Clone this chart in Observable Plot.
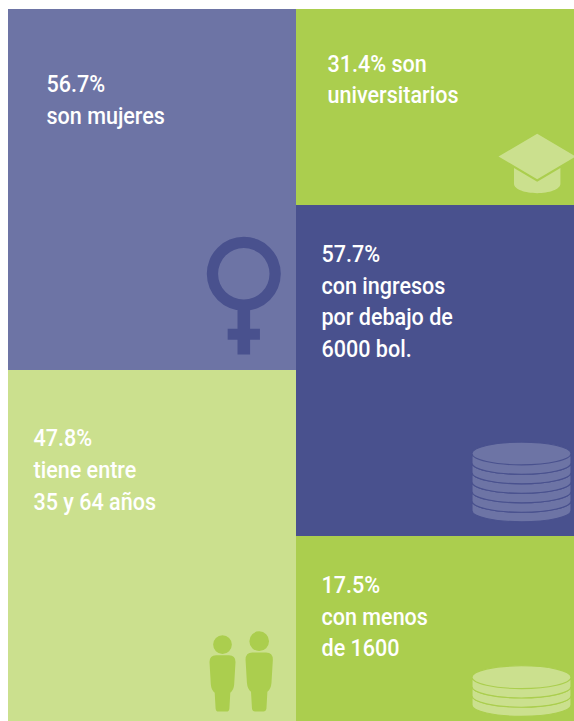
<!DOCTYPE html>
<html lang="es">
<head>
<meta charset="utf-8">
<script src="https://cdn.jsdelivr.net/npm/d3@7"></script>
<script src="https://cdn.jsdelivr.net/npm/@observablehq/plot@0.6"></script>
<style>
  html, body { margin: 0; padding: 0; background: #fff; }
  svg { display: block; }
</style>
</head>
<body>
<div id="chart"></div>
<script>
// ---- Data ----
const shares = ["56.7%", "31.4%", "57.7%", "47.8%", "17.5%"];
const captions = [
  "son mujeres",
  "son\nuniversitarios",
  "con ingresos\npor debajo de\n6000 bol.",
  "tiene entre\n35 y 64 años",
  "con menos\nde 1600"
];

// ---- Layout (image coordinates, through the x and y scales) ----
const cellLeft   = [8, 296, 296, 8, 296];
const cellRight  = [296, 574, 574, 296, 574];
const cellTop    = [9, 9, 205, 370, 536];
const cellBottom = [370, 205, 536, 721, 721];
const cellFill   = ["#6d74a5", "#abce4e", "#49518e", "#cbe08e", "#abce4e"];
const textLeft   = [46, 327, 321, 33, 321];
const textTop    = [69, 48.5, 239, 423.3, 570];
const sep = (i) => (i === 1 ? " " : "\n");

const cells = shares.map((share, i) => ({
  x1: cellLeft[i], x2: cellRight[i], y1: cellTop[i], y2: cellBottom[i],
  fill: cellFill[i], tx: textLeft[i], ty: textTop[i],
  label: share + sep(i) + captions[i]
}));

// ---- Icon shapes, drawn by Plot.dot as custom symbols, in units of r ----
const K = 0.5523;
const radius = (size) => Math.sqrt(size / Math.PI);
const venus = {
  draw(c, size) {
    const r = radius(size);
    const rect = (x0, y0, x1, y1) => {
      c.moveTo(x0 * r, y0 * r); c.lineTo(x1 * r, y0 * r);
      c.lineTo(x1 * r, y1 * r); c.lineTo(x0 * r, y1 * r); c.closePath();
    };
    c.moveTo(r, 0); c.arc(0, 0, r, 0, 2 * Math.PI); c.closePath();
    c.moveTo(0.695 * r, 0); c.arc(0, 0, 0.695 * r, 0, 2 * Math.PI, true); c.closePath();
    rect(-0.17, 0.85, 0.17, 2.18);
    rect(-0.436, 1.486, 0.436, 1.784);
  }
};
const cap = {
  draw(c, size) {
    const r = radius(size);
    c.moveTo(-r, 0); c.lineTo(0, -0.585 * r); c.lineTo(r, 0); c.lineTo(0, 0.587 * r); c.closePath();
    c.moveTo(-0.6 * r, 0.3 * r); c.lineTo(0, 0.655 * r); c.lineTo(0.6 * r, 0.3 * r);
    c.lineTo(0.6 * r, 0.7 * r);
    c.bezierCurveTo(0.6 * r, 0.86 * r, 0.3 * r, 0.948 * r, 0, 0.948 * r);
    c.bezierCurveTo(-0.3 * r, 0.948 * r, -0.6 * r, 0.86 * r, -0.6 * r, 0.7 * r);
    c.closePath();
  }
};
const coin = {
  draw(c, size) {
    const r = radius(size), ry = 0.23 * r, t = 0.19 * r;
    // silhouette of one coin, clockwise
    c.moveTo(-r, 0);
    c.bezierCurveTo(-r, -ry * K, -K * r, -ry, 0, -ry);
    c.bezierCurveTo(K * r, -ry, r, -ry * K, r, 0);
    c.lineTo(r, t);
    c.bezierCurveTo(r, t + ry * K, K * r, t + ry, 0, t + ry);
    c.bezierCurveTo(-K * r, t + ry, -r, t + ry * K, -r, t);
    c.closePath();
    // front edge of the top face, same winding so the fill is kept
    c.moveTo(r, 0);
    c.bezierCurveTo(r, ry * K, K * r, ry, 0, ry);
    c.bezierCurveTo(-K * r, ry, -r, ry * K, -r, 0);
  }
};
const person = {
  draw(c, size) {
    const r = radius(size), P = (v) => v * r;
    c.moveTo(P(0.72), P(-5.15)); c.arc(0, P(-5.15), P(0.72), 0, 2 * Math.PI); c.closePath();
    c.moveTo(P(-0.5), P(-4.33)); c.lineTo(P(0.5), P(-4.33));
    c.quadraticCurveTo(P(1), P(-4.33), P(1), P(-3.8));
    c.lineTo(P(0.9), P(-2.1));
    c.quadraticCurveTo(P(0.86), P(-1.62), P(0.6), P(-1.45));
    c.lineTo(P(0.53), P(-0.22));
    c.quadraticCurveTo(P(0.5), 0, P(0.3), 0);
    c.lineTo(P(-0.3), 0);
    c.quadraticCurveTo(P(-0.5), 0, P(-0.53), P(-0.22));
    c.lineTo(P(-0.6), P(-1.45));
    c.quadraticCurveTo(P(-0.86), P(-1.62), P(-0.9), P(-2.1));
    c.lineTo(P(-1), P(-3.8));
    c.quadraticCurveTo(P(-1), P(-4.33), P(-0.5), P(-4.33));
    c.closePath();
  }
};

const purpleCoins = [500.5, 491, 481.5, 472, 462.5, 453];
const greenCoins = [695.1, 685.9, 676.7];

const coinMark = (ys, fill, stroke) => Plot.dot(ys, {
  x: () => 521, y: (d) => d, r: 49.5, symbol: coin, fill, stroke, strokeWidth: 1.1
});

// The reference uses a condensed face: narrow each label horizontally.
const condense = (index, scales, values, dimensions, context, next) => {
  const g = next(index, scales, values, dimensions, context);
  g.querySelectorAll("text").forEach((t) => {
    t.setAttribute("transform", `${t.getAttribute("transform") || ""} scale(0.88,1)`);
  });
  return g;
};

const chart = Plot.plot({
  width: 574,
  height: 721,
  margin: 0,
  style: { background: "#fff" },
  x: { domain: [0, 574], range: [0, 574], axis: null },
  y: { domain: [0, 721], range: [0, 721], axis: null },
  marks: [
    Plot.rect(cells, { x1: "x1", x2: "x2", y1: "y1", y2: "y2", fill: "fill", inset: 0 }),
    Plot.dot([[243.3, 273.3]], { x: "0", y: "1", r: 37, symbol: venus, fill: "#49518e" }),
    Plot.dot([[536.7, 156]], { x: "0", y: "1", r: 38.7, symbol: cap, fill: "#cbe08e" }),
    coinMark(purpleCoins, "#6d74a5", "#49518e"),
    coinMark(greenCoins, "#cbe08e", "#abce4e"),
    Plot.dot([[222, 711]], { x: "0", y: "1", r: 13, symbol: person, fill: "#abce4e" }),
    Plot.dot([[258.7, 711]], { x: "0", y: "1", r: 13.65, symbol: person, fill: "#abce4e" }),
    Plot.text(cells, {
      x: "tx", y: "ty", text: "label",
      textAnchor: "start", lineAnchor: "top",
      fontSize: 24.5, lineHeight: 1.295, fontWeight: 500,
      fontFamily: "Roboto", fill: "#fff",
      render: condense
    })
  ]
});
document.getElementById("chart").append(chart);
</script>
</body>
</html>
